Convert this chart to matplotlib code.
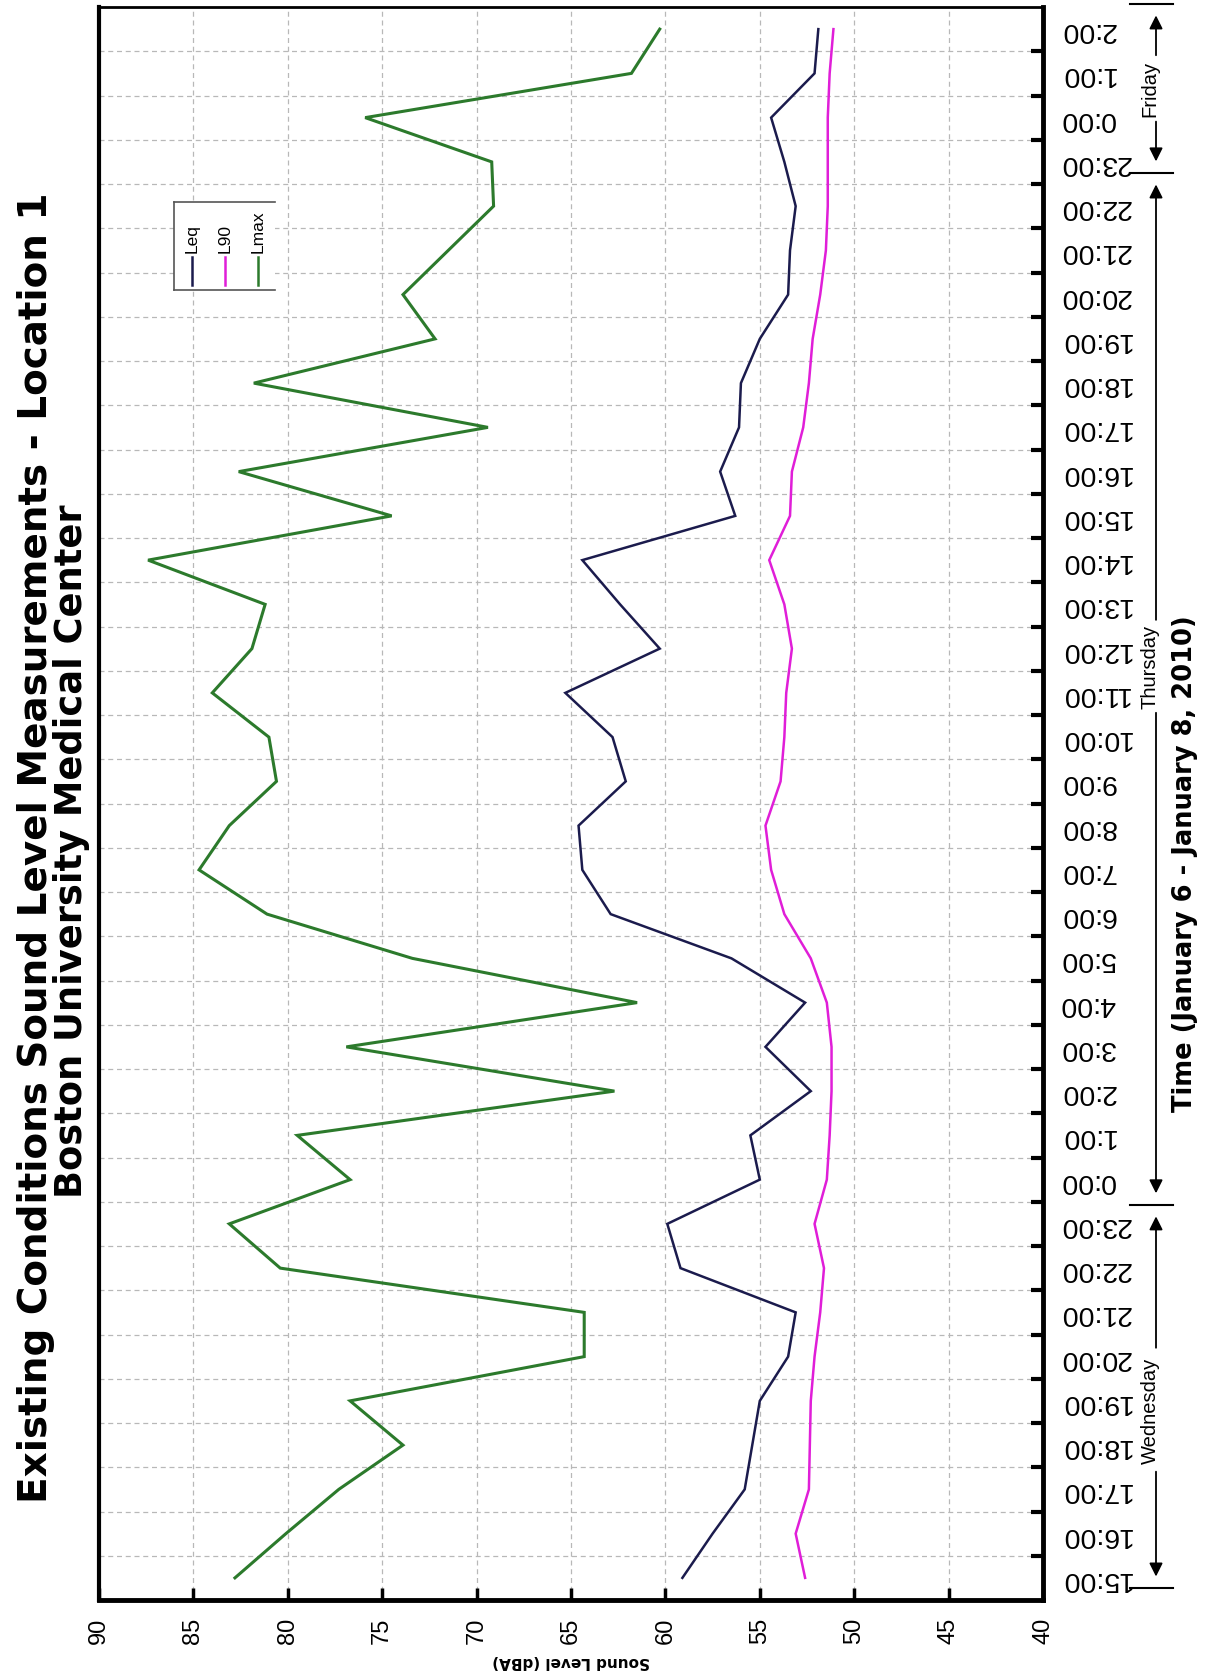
import matplotlib
matplotlib.use("Agg")
import matplotlib.pyplot as plt
import numpy as np
from matplotlib.transforms import blended_transform_factory
from matplotlib.ticker import FixedLocator, FixedFormatter, NullFormatter
from matplotlib.lines import Line2D
from matplotlib.patches import Rectangle

# ---------------- data ----------------
hours = ["15:00", "16:00", "17:00", "18:00", "19:00", "20:00", "21:00", "22:00", "23:00",
         "0:00", "1:00", "2:00", "3:00", "4:00", "5:00", "6:00", "7:00", "8:00", "9:00",
         "10:00", "11:00", "12:00", "13:00", "14:00", "15:00", "16:00", "17:00", "18:00",
         "19:00", "20:00", "21:00", "22:00", "23:00", "0:00", "1:00", "2:00"]

leq = [59.1, 57.5, 55.8, 55.4, 55.0, 53.5, 53.1, 59.2, 59.9,
       55.0, 55.5, 52.3, 54.7, 52.6, 56.5, 62.9, 64.4, 64.6, 62.1,
       62.8, 65.3, 60.3, 62.4, 64.4, 56.3, 57.1, 56.1, 56.0,
       55.0, 53.5, 53.4, 53.1, 53.7, 54.4, 52.1, 51.9]

l90 = [52.6, 53.1, 52.4, 52.35, 52.3, 52.1, 51.8, 51.6, 52.1,
       51.45, 51.3, 51.2, 51.2, 51.45, 52.3, 53.7, 54.4, 54.7, 53.9,
       53.7, 53.6, 53.3, 53.7, 54.5, 53.4, 53.3, 52.7, 52.4,
       52.2, 51.8, 51.5, 51.4, 51.4, 51.4, 51.3, 51.1]

lmax = [82.8, 80.1, 77.3, 73.9, 76.7, 64.3, 64.3, 80.4, 83.1,
        76.7, 79.5, 62.7, 76.9, 61.5, 73.4, 81.1, 84.7, 83.1, 80.6,
        81.0, 84.0, 81.9, 81.2, 87.4, 74.5, 82.6, 69.4, 81.8,
        72.2, 73.9, 71.5, 69.1, 69.2, 75.9, 61.8, 60.3]

level_ticks = [90, 85, 80, 75, 70, 65, 60, 55, 50, 45, 40]
series_names = ["Leq", "L90", "Lmax"]
series_colors = ["#1b1b4d", "#e01ed8", "#2c7a2c"]
days = ["Wednesday", "Thursday", "Friday"]

title1 = "Existing Conditions Sound Level Measurements - Location 1"
title2 = "Boston University Medical Center"
xlabel = "Time (January 6 - January 8, 2010)"
ylabel = "Sound Level (dBA)"

# ---------------- figure ----------------
W, H = 1207, 1674
fig = plt.figure(figsize=(W / 100, H / 100), dpi=100)
fig.patch.set_facecolor("white")

ax_l, ax_r, ax_t, ax_b = 99, 1043, 8, 1601
ax = fig.add_axes([ax_l / W, 1 - ax_b / H, (ax_r - ax_l) / W, (ax_b - ax_t) / H])

idx = np.arange(len(hours))
lws = [1.8, 1.8, 2.2]
for vals, c, lw, nm in zip([leq, l90, lmax], series_colors, lws, series_names):
    ax.plot(vals, idx, color=c, lw=lw, label=nm, solid_joinstyle="miter")

ax.set_xlim(90, 40)
ax.set_ylim(-0.5, len(hours) - 0.5)

# x (sound level) axis at bottom
ax.set_xticks(level_ticks)
ax.set_xticklabels([str(v) for v in level_ticks], family="Liberation Sans")
ax.tick_params(axis="x", direction="in", length=9, width=2.5, pad=12,
               labelsize=17, labelrotation=90, top=False)

# y (time) axis on right
ax.yaxis.tick_right()
ax.yaxis.set_major_locator(FixedLocator(idx[:-1] + 0.5))
ax.yaxis.set_major_formatter(NullFormatter())
ax.yaxis.set_minor_locator(FixedLocator(idx))
ax.yaxis.set_minor_formatter(FixedFormatter(hours))
ax.tick_params(axis="y", which="major", direction="in", length=9, width=3,
               left=False, right=True, labelleft=False, labelright=False)
ax.tick_params(axis="y", which="minor", length=0, pad=12, labelsize=20.5,
               left=False, right=True, labelleft=False, labelright=True,
               labelrotation=180)
for t in ax.get_yticklabels(minor=True):
    t.set_family("Liberation Sans")
    t.set_va("center")

ax.grid(True, which="major", axis="both", linestyle=(0, (4, 3)),
        color="#b8b8b8", lw=0.9)

for side, lw in [("left", 3), ("bottom", 3.5), ("right", 3.5), ("top", 2)]:
    ax.spines[side].set_linewidth(lw)
    ax.spines[side].set_color("black")

# ---------------- legend (drawn manually, rotated) ----------------
def fx(px):
    return px / W

def fy(py):
    return 1 - py / H

lx0, lx1, ly0, ly1 = 174, 275, 203, 291
fig.patches.append(Rectangle((fx(lx0), fy(ly1)), fx(lx1) - fx(lx0), fy(ly0) - fy(ly1),
                             transform=fig.transFigure, facecolor="white",
                             edgecolor="none", zorder=0.5))
for xs, ys in [([lx0, lx0], [ly0, ly1]), ([lx0, lx1], [ly0, ly0]), ([lx0, lx1], [ly1, ly1])]:
    fig.add_artist(Line2D([fx(v) for v in xs], [fy(v) for v in ys],
                          transform=fig.transFigure, color="#555555", lw=1.2))
leg_x = [192, 225, 258]
for x, nm, c in zip(leg_x, series_names, series_colors):
    fig.add_artist(Line2D([fx(x), fx(x)], [fy(258), fy(286)],
                          transform=fig.transFigure, color=c, lw=1.8))
    fig.text(fx(x), fy(253), nm, rotation=90, ha="center", va="bottom",
             fontsize=12.5, family="Liberation Sans")

# ---------------- titles & labels ----------------
fig.text(fx(36), fy(848), title1, rotation=90, ha="center", va="center",
         fontsize=28, fontweight="bold", family="DejaVu Sans")
fig.text(fx(72), fy(851), title2, rotation=90, ha="center", va="center",
         fontsize=26.5, fontweight="bold", family="DejaVu Sans")
fig.text(fx(1185), fy(864), xlabel, rotation=90, ha="center", va="center",
         fontsize=18.5, fontweight="bold", family="DejaVu Sans")
fig.text(fx(571), fy(1662), ylabel, rotation=180, ha="center", va="center",
         fontsize=11, fontweight="bold", family="DejaVu Sans")

# ---------------- day brackets ----------------
trans = blended_transform_factory(ax.transAxes, ax.transData)
axw = ax_r - ax_l
arrow_x = (1156 - ax_l) / axw
bar_x0 = (1130 - ax_l) / axw
bar_x1 = (1173 - ax_l) / axw
text_x = (1150 - ax_l) / axw

bounds = [-0.23, 8.43, 31.75, 35.57]
text_c = [3.80, 20.6, 33.66]
text_half = [1.40, 1.05, 0.75]
tip_gap = 0.26

for b in bounds:
    ax.plot([bar_x0, bar_x1], [b, b], transform=trans, color="black", lw=1.5,
            clip_on=False)

for d, lo, hi, c, h in zip(days, bounds[:-1], bounds[1:], text_c, text_half):
    ax.text(text_x, c, d, transform=trans, rotation=90, ha="center", va="center",
            fontsize=14.5, family="Liberation Sans", clip_on=False)
    ap = dict(arrowstyle="-|>", color="black", lw=1.3, mutation_scale=20,
              shrinkA=0, shrinkB=0)
    ax.annotate("", xy=(arrow_x, lo + tip_gap), xytext=(arrow_x, c - h),
                xycoords=trans, textcoords=trans, arrowprops=ap,
                annotation_clip=False)
    ax.annotate("", xy=(arrow_x, hi - tip_gap), xytext=(arrow_x, c + h),
                xycoords=trans, textcoords=trans, arrowprops=ap,
                annotation_clip=False)

fig.savefig("out.png", dpi=100, facecolor="white")
